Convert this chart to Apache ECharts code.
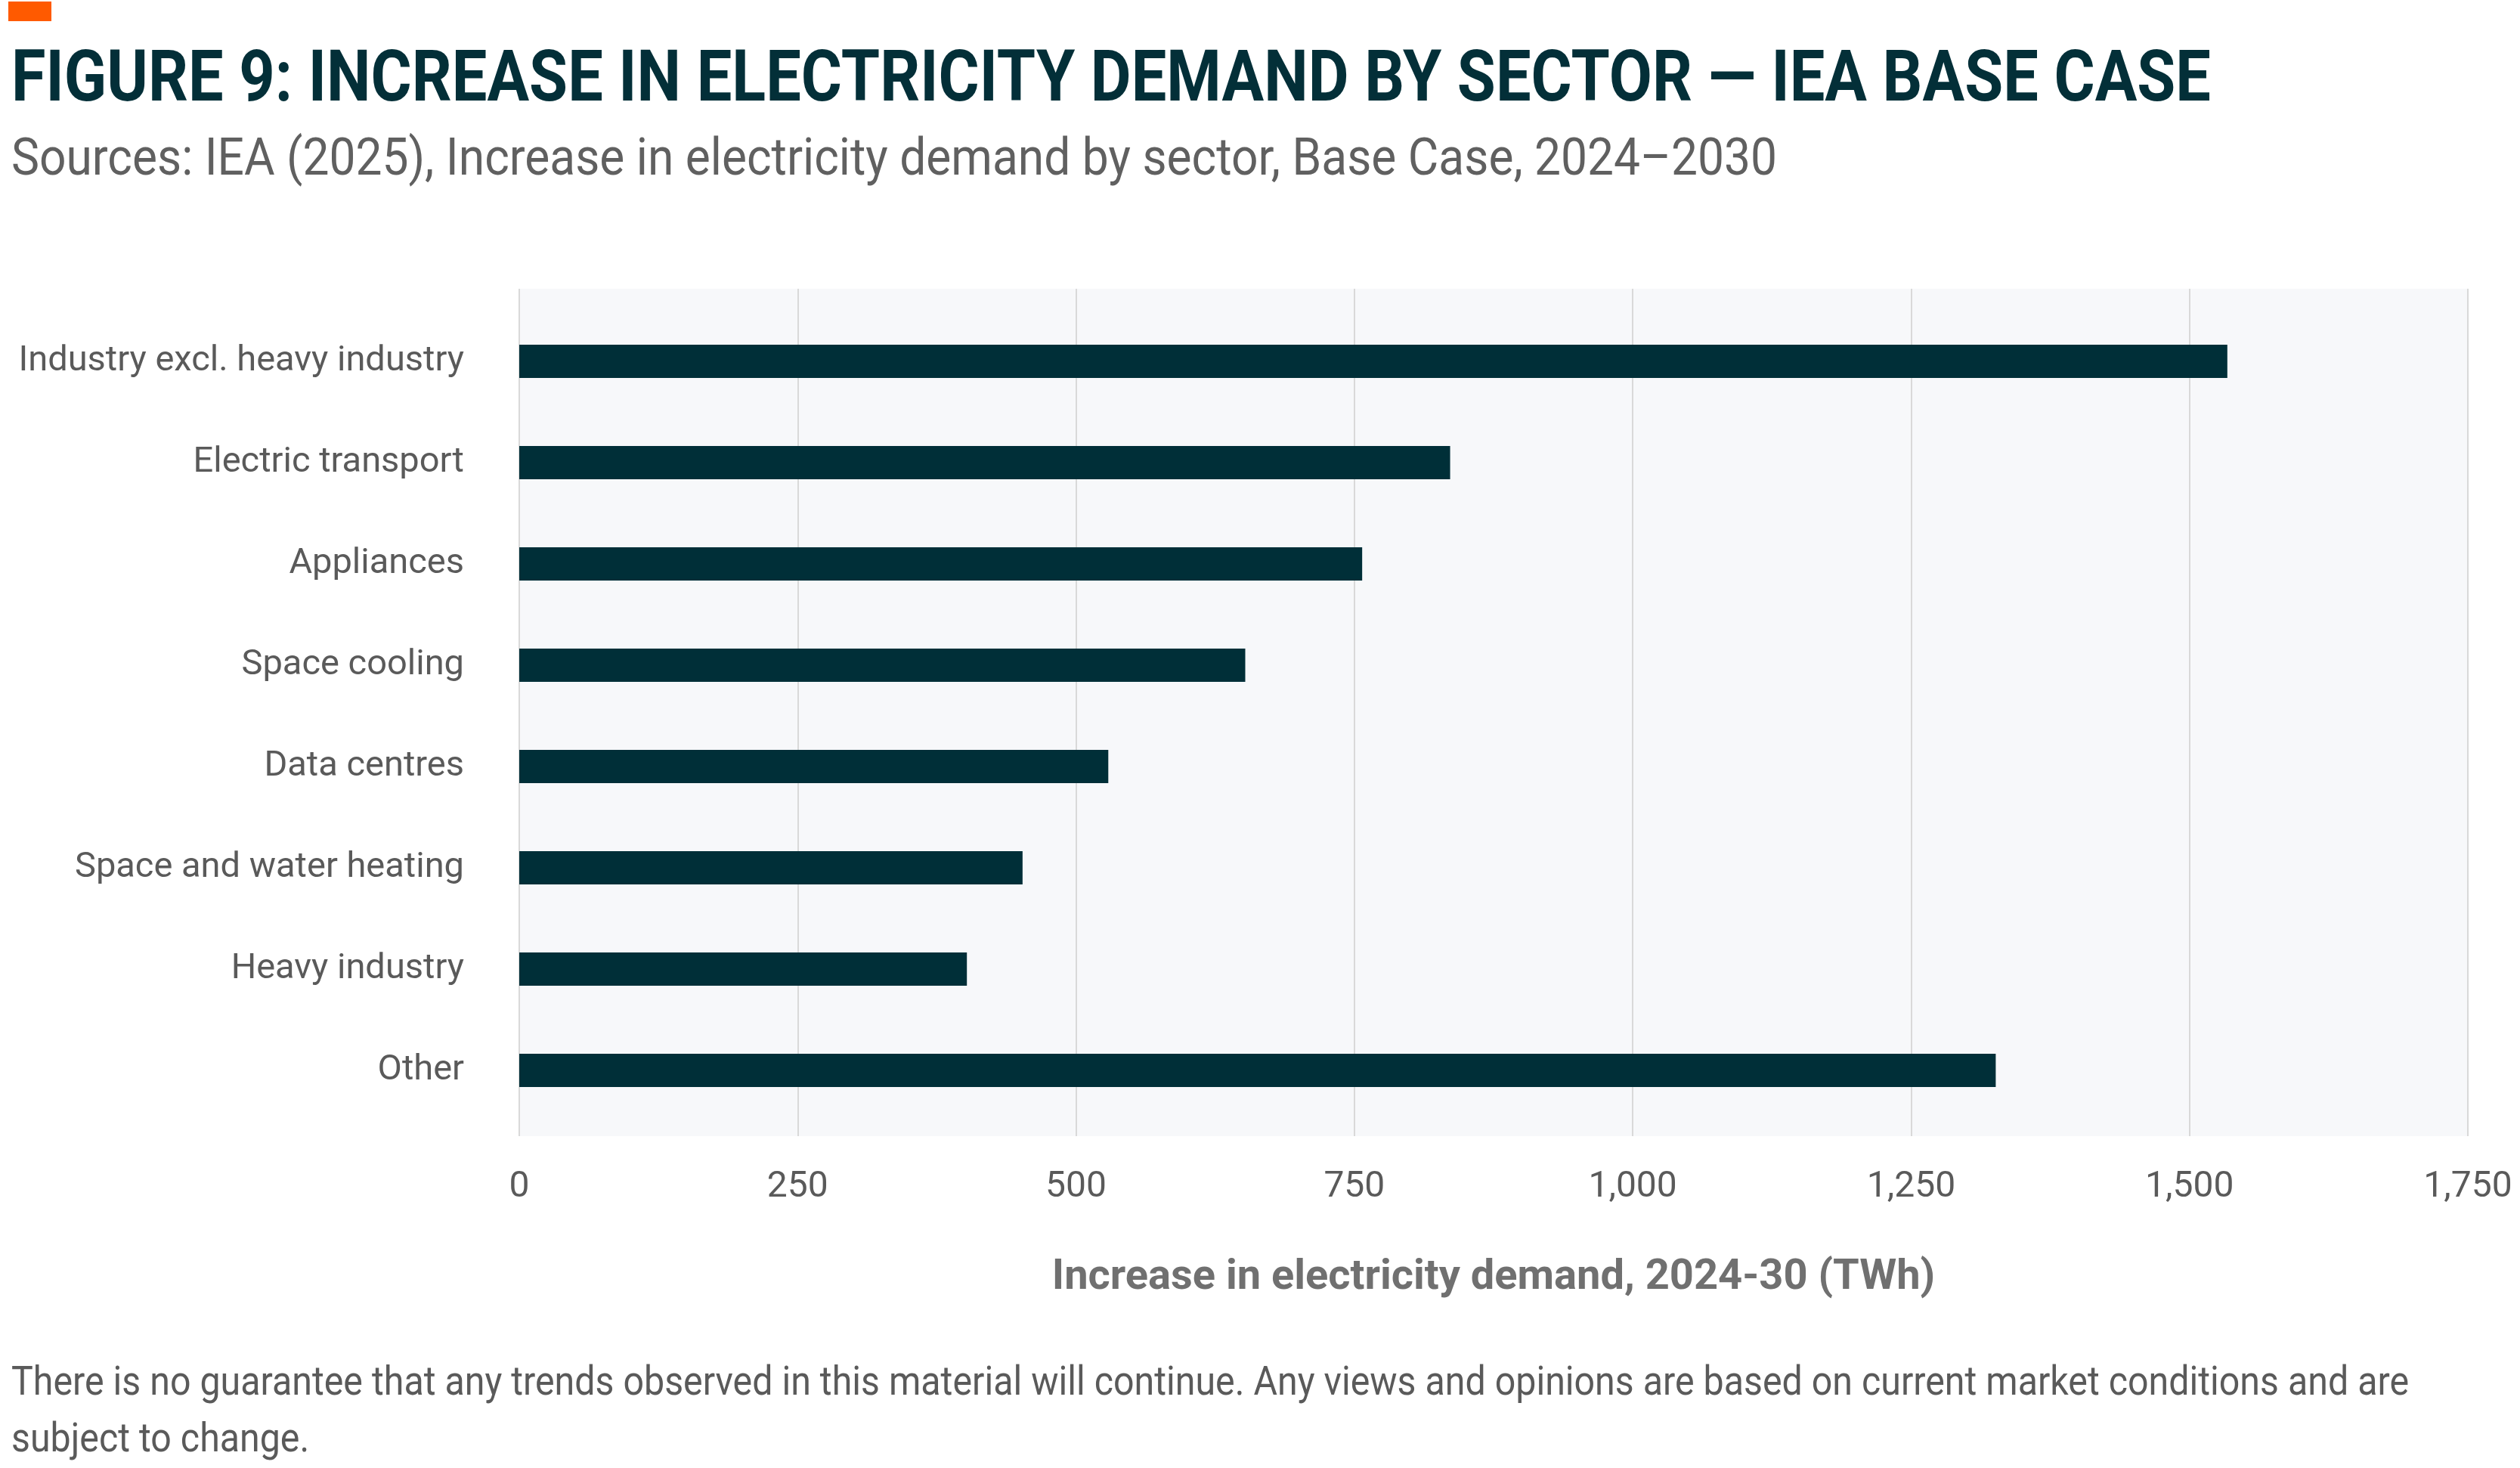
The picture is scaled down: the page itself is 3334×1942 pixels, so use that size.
<!DOCTYPE html>
<html>
<head>
<meta charset="utf-8">
<script src="https://cdn.jsdelivr.net/npm/echarts@6/dist/echarts.min.js"></script>
<style>
html,body{margin:0;padding:0;background:#fff;}
#chart{width:3334px;height:1942px;}
</style>
</head>
<body>
<div id="chart"></div>
<script>
const categories = ['Industry excl. heavy industry','Electric transport','Appliances','Space cooling','Data centres','Space and water heating','Heavy industry','Other'];
const values = [1534, 836, 757, 652, 529, 452, 402, 1326];
const axisMin = 0, axisMax = 1750, axisInterval = 250;
const titleText = 'FIGURE 9: INCREASE IN ELECTRICITY DEMAND BY SECTOR \u2014 IEA BASE CASE';
const subtitleText = 'Sources: IEA (2025), Increase in electricity demand by sector, Base Case, 2024\u20132030';
const axisNameText = 'Increase in electricity demand, 2024-30 (TWh)';
const footerLines = ['There is no guarantee that any trends observed in this material will continue. Any views and opinions are based on current market conditions and are','subject to change.'];

const FONT = 'Roboto, "Liberation Sans", sans-serif';
const mctx = document.createElement('canvas').getContext('2d');
function fitScale(text, weight, size, width){
  mctx.font = weight + ' ' + size + 'px ' + FONT;
  return width / mctx.measureText(text).width;
}
const titleScale = fitScale(titleText, 'bold', 95, 2910);
const subScale = fitScale(subtitleText, 'normal', 68, 2336);
const footScale = fitScale(footerLines[0], 'normal', 54, 3172);

const chart = echarts.init(document.getElementById('chart'), null, {renderer:'canvas'});
const fmt = v => echarts.format.addCommas(v);
chart.setOption({
  backgroundColor:'#ffffff',
  animation:false,
  grid:[
    {left:687, right:69, top:382, bottom:439, show:true, backgroundColor:'#f7f8fa', borderWidth:0, containLabel:false, outerBoundsMode:'none'},
    {left:687, right:69, top:411, bottom:459, containLabel:false, outerBoundsMode:'none'}
  ],
  xAxis:[
    {type:'value', gridIndex:0, min:axisMin, max:axisMax, interval:axisInterval,
     axisLine:{show:false}, axisTick:{show:false},
     splitLine:{show:true, lineStyle:{color:'#d9d9d9', width:2}},
     axisLabel:{formatter:fmt, fontFamily:FONT, fontSize:48, color:'#5a5a5a', margin:44},
     name:axisNameText, nameLocation:'middle', nameGap:160,
     nameTextStyle:{fontFamily:FONT, fontSize:56, fontWeight:'bold', color:'#707070'}},
    {type:'value', gridIndex:1, min:axisMin, max:axisMax, interval:axisInterval, show:false}
  ],
  yAxis:[
    {type:'value', gridIndex:0, show:false, splitLine:{show:false}},
    {type:'category', gridIndex:1, data:categories, inverse:true,
     axisLine:{show:false}, axisTick:{show:false}, splitLine:{show:false},
     axisLabel:{fontFamily:FONT, fontSize:47, color:'#5a5a5a', margin:73}}
  ],
  series:[
    {type:'bar', xAxisIndex:1, yAxisIndex:1, data:values, barWidth:44,
     itemStyle:{color:'#002f38'}}
  ],
  graphic:[
    {type:'rect', shape:{x:11, y:2, width:57, height:26}, style:{fill:'#ff5a00'}},
    {type:'text', x:15, y:109, scaleX:titleScale,
     style:{text:titleText, fontFamily:FONT, fontWeight:'bold', fontSize:95, fill:'#032f38', align:'left', verticalAlign:'middle'}},
    {type:'text', x:15, y:214, scaleX:subScale,
     style:{text:subtitleText, fontFamily:FONT, fontSize:68, fill:'#606060', align:'left', verticalAlign:'middle'}},
    {type:'text', x:15, y:1831, scaleX:footScale,
     style:{text:footerLines[0], fontFamily:FONT, fontSize:54, fill:'#5a5a5a', align:'left', verticalAlign:'middle'}},
    {type:'text', x:15, y:1906, scaleX:footScale,
     style:{text:footerLines[1], fontFamily:FONT, fontSize:54, fill:'#5a5a5a', align:'left', verticalAlign:'middle'}}
  ]
});
</script>
</body>
</html>
